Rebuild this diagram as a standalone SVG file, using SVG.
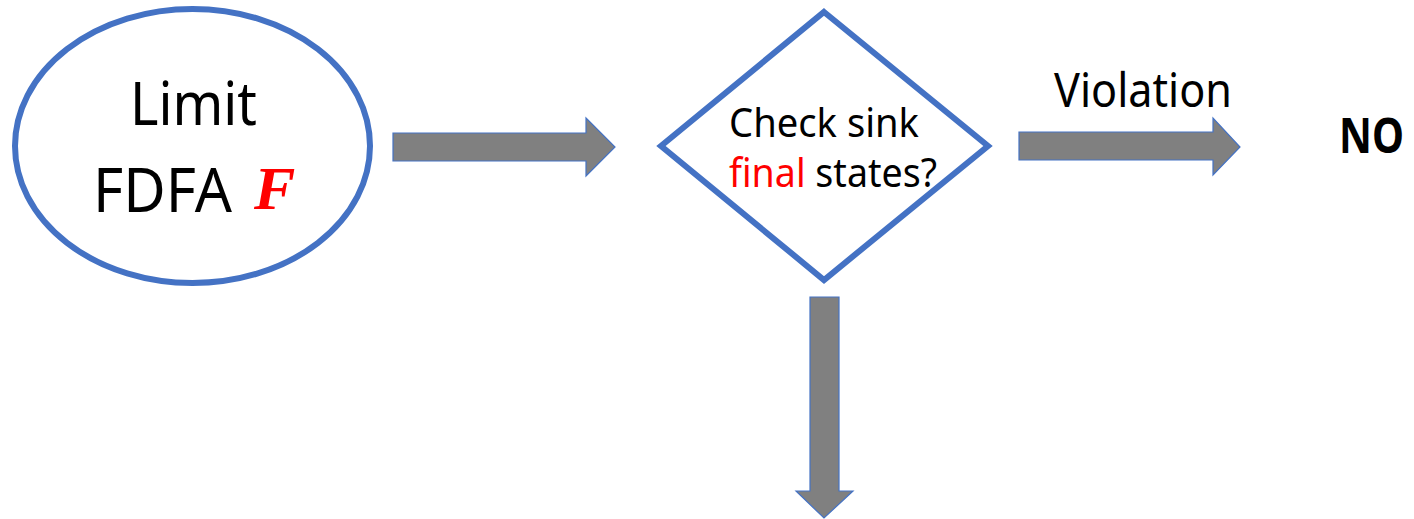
<svg xmlns="http://www.w3.org/2000/svg" width="1414" height="519" viewBox="0 0 1414 519">
  <style>
    .shape { fill: #ffffff; stroke: #4472C4; stroke-width: 6; }
    .flow { fill: #808080; stroke: #4472C4; stroke-width: 1.2; stroke-linejoin: miter; }
    .label { font-family: "Noto Sans", "Open Sans", sans-serif; fill: #000000; }
    .accent { fill: #ff0000; }
    .math { font-family: "Liberation Serif", "DejaVu Serif", serif; font-style: italic; font-weight: bold; fill: #ff0000; }
  </style>
  <rect width="1414" height="519" fill="#ffffff"/>

  <!-- Start node -->
  <g id="node-limit-fdfa">
    <ellipse class="shape" cx="192.5" cy="146" rx="177.5" ry="137"/>
    <text class="label" x="130" y="125" font-size="60" textLength="127" lengthAdjust="spacingAndGlyphs">Limit</text>
    <text class="label" x="93" y="212" font-size="62" textLength="139" lengthAdjust="spacingAndGlyphs">FDFA</text>
    <text class="math" x="254" y="209" font-size="62">F</text>
  </g>

  <!-- Decision node -->
  <g id="node-check">
    <polygon class="shape" points="824,12 988,146 824,280 661,146"/>
    <text class="label" x="729" y="137" font-size="40" textLength="190" lengthAdjust="spacingAndGlyphs">Check sink</text>
    <text class="label" x="729" y="187" font-size="40" textLength="208" lengthAdjust="spacingAndGlyphs"><tspan class="accent">final</tspan> states?</text>
  </g>

  <!-- Result node -->
  <g id="node-no">
    <text class="label" x="1339" y="153" font-size="48" font-weight="bold" textLength="65" lengthAdjust="spacingAndGlyphs">NO</text>
  </g>

  <!-- Block arrows between nodes -->
  <g id="connectors">
    <polygon class="flow" points="393,133 586,133 586,118 615,147 586,176 586,161 393,161"/>
    <polygon class="flow" points="1019,132 1213,132 1213,118 1240,147 1213,175 1213,160 1019,160"/>
    <text class="label" x="1054" y="107" font-size="47" textLength="178" lengthAdjust="spacingAndGlyphs">Violation</text>
    <polygon class="flow" points="810,297 839,297 839,491 853,491 824,518 796,491 810,491"/>
  </g>
</svg>
